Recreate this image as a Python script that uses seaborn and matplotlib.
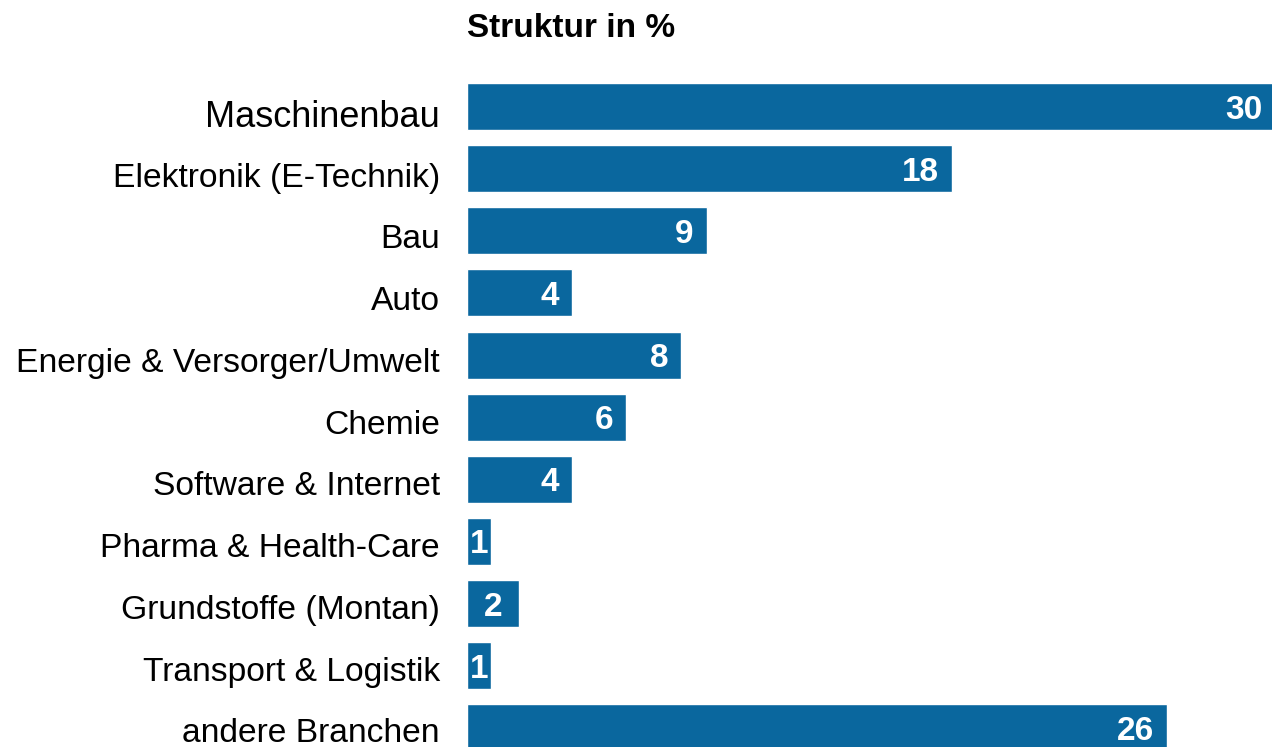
import matplotlib
matplotlib.use("Agg")
import matplotlib.pyplot as plt
import matplotlib.transforms as mtransforms
import seaborn as sns

# Branchenstruktur in %
categories = [
    "Maschinenbau",
    "Elektronik (E-Technik)",
    "Bau",
    "Auto",
    "Energie & Versorger/Umwelt",
    "Chemie",
    "Software & Internet",
    "Pharma & Health-Care",
    "Grundstoffe (Montan)",
    "Transport & Logistik",
    "andere Branchen",
]
values = [30.0, 18.0, 8.9, 3.9, 7.95, 5.9, 3.9, 0.9, 1.93, 0.9, 26.0]
value_labels = ["30", "18", "9", "4", "8", "6", "4", "1", "2", "1", "26"]

BAR_COLOR = "#0a679e"

sns.set_theme(style="white")
plt.rcParams["font.family"] = ["Liberation Sans", "DejaVu Sans"]

fig = plt.figure(figsize=(12.72, 7.47), dpi=100)
ax = fig.add_axes([467 / 1272, 0, 805 / 1272, 1 - 75.5 / 747])

sns.barplot(
    x=values,
    y=categories,
    orient="h",
    color=BAR_COLOR,
    saturation=1,
    width=0.757,
    ax=ax,
)

ax.set_xlim(0, 29.88)
ax.set_ylim(10.31, -0.5)
ax.set_xticks([])
ax.set_xlabel("")
ax.set_ylabel("")
sns.despine(ax=ax, left=True, bottom=True)
ax.tick_params(axis="y", length=0, pad=19.5, labelsize=24.2, labelcolor="black")

# Beschriftungen leicht unter der Balkenmitte, erste Kategorie größer
for i, lab in enumerate(ax.get_yticklabels()):
    shift = (6.5 - 0.4 * i) / 100
    offset = mtransforms.ScaledTranslation(0, -shift, fig.dpi_scale_trans)
    lab.set_transform(lab.get_transform() + offset)
    if i == 0:
        lab.set_fontsize(26)

# Werte in den Balken (Grundlinie so, dass die Ziffern mittig sitzen)
px = 29.88 / 805
half_cap = 12 / 62.1
for i, (v, txt) in enumerate(zip(values, value_labels)):
    if v < 3:
        ax.text(v / 2, i + half_cap, txt, ha="center", va="baseline",
                color="white", fontsize=24, fontweight="bold")
    else:
        ax.text(v - 13 * px, i + half_cap, txt, ha="right", va="baseline",
                color="white", fontsize=24, fontweight="bold", clip_on=False)

fig.text(467 / 1272, 1 - 37 / 747, "Struktur in %", ha="left", va="baseline",
         fontsize=24, fontweight="bold", color="black")

fig.savefig("out.png", dpi=100)
